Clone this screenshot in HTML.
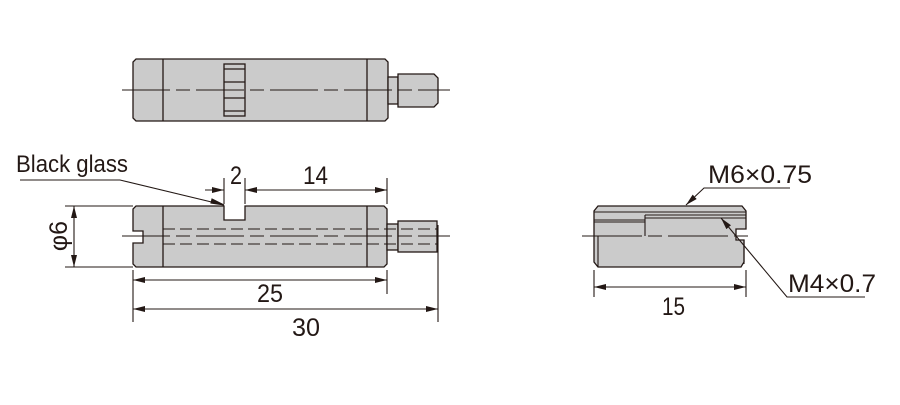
<!DOCTYPE html>
<html><head><meta charset="utf-8"><style>
html,body{margin:0;padding:0;background:#fff;width:900px;height:405px;overflow:hidden}
svg{display:block}
text{font-family:"Liberation Sans",sans-serif;fill:#231815}
</style></head><body>
<svg width="900" height="405" viewBox="0 0 900 405" xmlns="http://www.w3.org/2000/svg">
<defs>
<marker id="a" viewBox="0 0 12 6" refX="12" refY="3" markerWidth="12" markerHeight="6" markerUnits="userSpaceOnUse" orient="auto-start-reverse"><path d="M0,0L12,3L0,6z" fill="#231815"/></marker>
</defs>
<g stroke="#231815" stroke-width="1.3" fill="#cbcbcb">
<path d="M136,59H385L388,62V118L385,121H136L133,118V62Z"/>
<line x1="163" y1="59" x2="163" y2="121"/><line x1="367" y1="59" x2="367" y2="121"/>
<rect x="388" y="77" width="10" height="27"/>
<path d="M398,74H434L438,78V103L434,107H398Z"/>
<rect x="224" y="64" width="21" height="52"/>
<line x1="224" y1="69" x2="245" y2="69"/><line x1="224" y1="82" x2="245" y2="82"/><line x1="224" y1="98" x2="245" y2="98"/><line x1="224" y1="111" x2="245" y2="111"/>
<path d="M136,206H224V220H245V206H384L387,209V264L384,267H136L133,264V243H143V231H133V209Z"/>
<line x1="163" y1="206" x2="163" y2="267"/><line x1="367" y1="206" x2="367" y2="267"/>
<rect x="387" y="224" width="11" height="26"/>
<rect x="398" y="221" width="39" height="31"/>
<path d="M598,206H742L746,211V229H736V240H744V262L741,267H598L594,262V211Z"/>
</g>
<g stroke="#231815" stroke-width="1.1" fill="none">
<line x1="122" y1="90" x2="450" y2="90" stroke-dasharray="48,6,14,6"/>
<line x1="122" y1="236" x2="450" y2="236" stroke-dasharray="48,6,14,6"/>
<line x1="163" y1="229" x2="437" y2="229" stroke-dasharray="12,5"/>
<line x1="163" y1="244" x2="437" y2="244" stroke-dasharray="12,5"/>
<line x1="582" y1="236" x2="752" y2="236" stroke-dasharray="60,6,14,6"/>
<line x1="594" y1="212" x2="746" y2="212"/>
<line x1="594" y1="220" x2="645" y2="220"/><line x1="594" y1="222" x2="645" y2="222"/>
<line x1="645" y1="215" x2="645" y2="236"/>
<line x1="645" y1="215" x2="746" y2="215"/><line x1="645" y1="218" x2="746" y2="218"/>
<line x1="598" y1="236" x2="598" y2="267"/><line x1="744" y1="240" x2="744" y2="264"/>
<line x1="65" y1="206" x2="133" y2="206"/><line x1="65" y1="267" x2="133" y2="267"/>
<line x1="74" y1="206" x2="74" y2="267" marker-start="url(#a)" marker-end="url(#a)"/>
<line x1="224" y1="178" x2="224" y2="204"/><line x1="245" y1="178" x2="245" y2="204"/><line x1="387" y1="178" x2="387" y2="204"/>
<line x1="205" y1="190" x2="224" y2="190" marker-end="url(#a)"/>
<line x1="245" y1="190" x2="387" y2="190" marker-start="url(#a)" marker-end="url(#a)"/>
<polyline points="20,180 120,180 224,205"/>
<path d="M212,199L224,205L211,203Z" fill="#231815"/>
<line x1="133" y1="270" x2="133" y2="322"/><line x1="387" y1="270" x2="387" y2="294"/><line x1="438" y1="225" x2="438" y2="322"/>
<line x1="133" y1="280" x2="387" y2="280" marker-start="url(#a)" marker-end="url(#a)"/>
<line x1="133" y1="309" x2="438" y2="309" marker-start="url(#a)" marker-end="url(#a)"/>
<line x1="594" y1="270" x2="594" y2="297"/><line x1="746" y1="270" x2="746" y2="297"/>
<line x1="594" y1="287" x2="746" y2="287" marker-start="url(#a)" marker-end="url(#a)"/>
<polyline points="790,188 704,188 686,205" marker-end="url(#a)"/>
<polyline points="865,297 787,297 721,218" marker-end="url(#a)"/>
</g>
<text x="16" y="172" font-size="24" textLength="112" lengthAdjust="spacingAndGlyphs">Black glass</text>
<text x="230" y="184" font-size="25" textLength="12" lengthAdjust="spacingAndGlyphs">2</text>
<text x="303" y="184" font-size="25" textLength="25" lengthAdjust="spacingAndGlyphs">14</text>
<text x="257" y="302" font-size="25" textLength="26" lengthAdjust="spacingAndGlyphs">25</text>
<text x="292" y="336" font-size="25" textLength="28" lengthAdjust="spacingAndGlyphs">30</text>
<text x="662" y="315" font-size="25" textLength="23" lengthAdjust="spacingAndGlyphs">15</text>
<text x="708" y="183" font-size="25" textLength="104" lengthAdjust="spacingAndGlyphs">M6×0.75</text>
<text x="788" y="292" font-size="25" textLength="88" lengthAdjust="spacingAndGlyphs">M4×0.7</text>
<text transform="translate(67,236) rotate(-90)" font-size="25" text-anchor="middle">φ6</text>
</svg>
</body></html>
